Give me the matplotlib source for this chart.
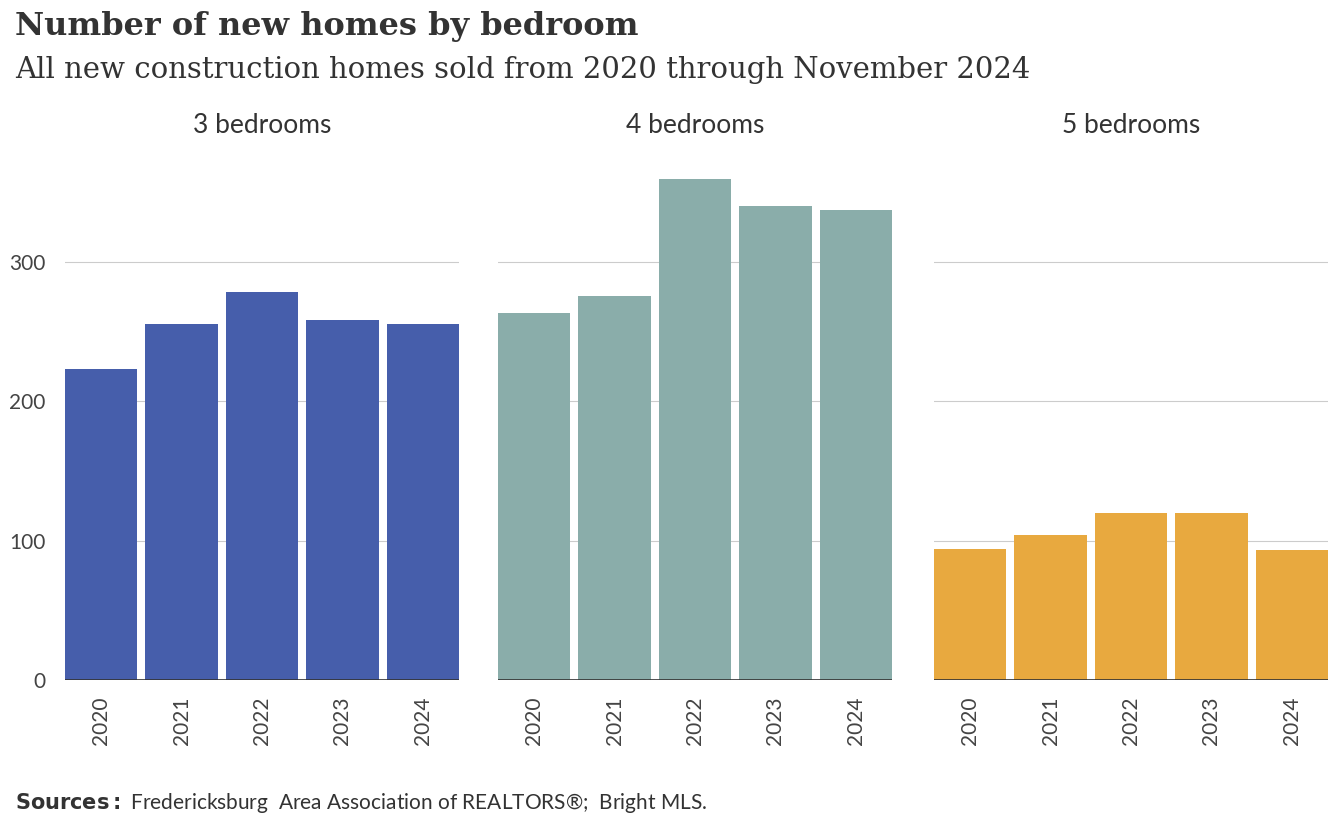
import matplotlib
matplotlib.use("Agg")
import matplotlib.pyplot as plt

years = ["2020", "2021", "2022", "2023", "2024"]
panels = ["3 bedrooms", "4 bedrooms", "5 bedrooms"]
beds3 = [223, 255, 278, 258, 255]
beds4 = [263, 275, 359, 340, 337]
beds5 = [94, 104, 120, 120, 93]
series = [beds3, beds4, beds5]
colors = ["#465EAB", "#8AADAA", "#E8A93F"]
yticks = [0, 100, 200, 300]

plt.rcParams['font.family'] = ['Lato', 'DejaVu Sans']
fig = plt.figure(figsize=(13.44, 8.3), dpi=100)
W, H = 1344, 830
lefts = [65, 498, 934]
for i, (name, vals, c) in enumerate(zip(panels, series, colors)):
    ax = fig.add_axes([lefts[i]/W, 1-680/H, 394/W, 530/H])
    ax.bar(range(5), vals, width=0.9, color=c, zorder=2)
    ax.set_xlim(-0.45, 4.45)
    ax.set_ylim(0, 380)
    ax.set_yticks(yticks)
    for t in yticks[1:]:
        ax.axhline(t, color="#cccccc", lw=0.8, zorder=1)
    ax.axhline(0, color="#333333", lw=1.2, zorder=3)
    for s in ax.spines.values():
        s.set_visible(False)
    ax.tick_params(length=0, labelsize=15, colors="#444444", pad=12)
    ax.set_xticks(range(5))
    ax.set_xticklabels(years, rotation=90)
    if i > 0:
        ax.set_yticklabels([])
    else:
        ax.tick_params(axis='y', pad=14)
    ax.set_title(name, fontsize=19, color="#333333", pad=12)

fig.text(15/W, 1-26/H, "Number of new homes by bedroom", fontsize=23, fontweight="bold",
         family=["DejaVu Serif"], color="#333333", va="center")
fig.text(15/W, 1-70/H, "All new construction homes sold from 2020 through November 2024",
         fontsize=21, family=["DejaVu Serif"], color="#333333", va="center")
fig.text(15/W, 1-803/H, r"$\bf{Sources:}$ Fredericksburg  Area Association of REALTORS®;  Bright MLS.",
         fontsize=15, color="#333333", va="center")
fig.savefig("out.png", dpi=100)
